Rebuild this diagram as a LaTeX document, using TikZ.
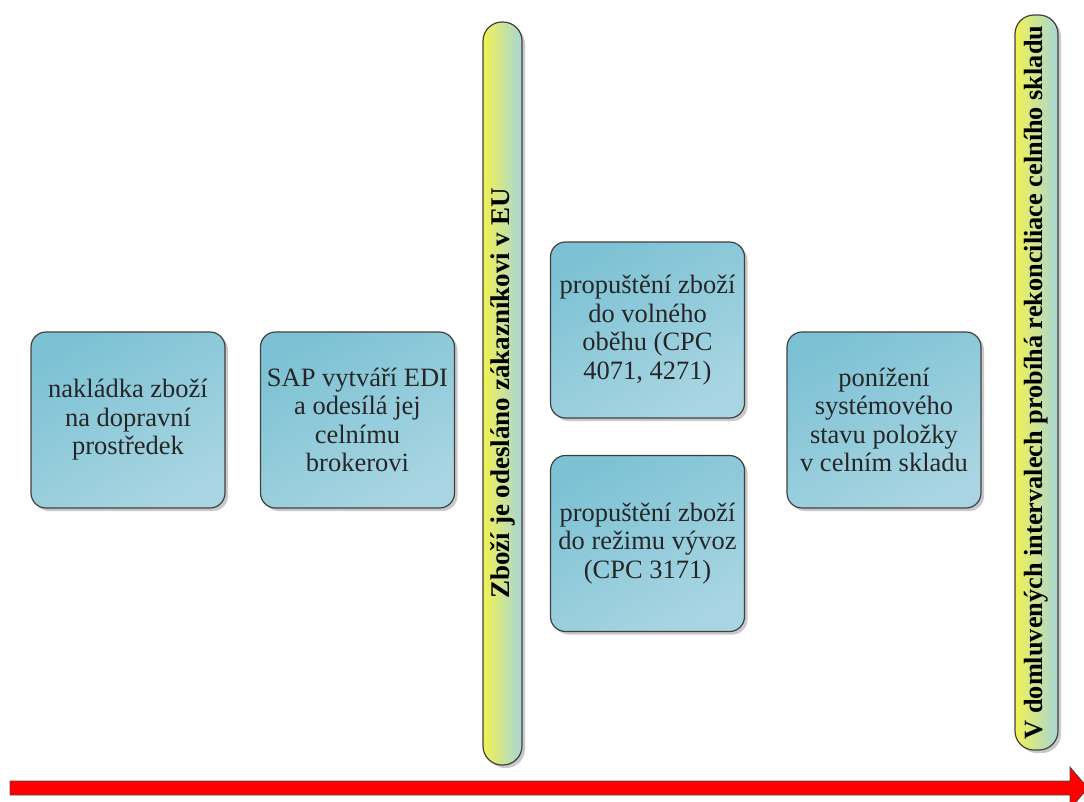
\documentclass[tikz,border=0pt]{standalone}
\usepackage{fontspec}
\setmainfont{Liberation Serif}
\usetikzlibrary{shadows}
\definecolor{boxA}{HTML}{7DC2D4}
\definecolor{boxB}{HTML}{A9D5E2}
\definecolor{barY}{HTML}{F2F252}
\definecolor{barB}{HTML}{A6D6D8}
\definecolor{edge}{HTML}{404040}
\tikzset{
  stepbox/.style={draw=edge, line width=1.2pt, rounded corners=15pt,
    top color=boxA, bottom color=boxB, shading angle=30,
    minimum width=194pt, minimum height=176pt, inner sep=0pt,
    align=center, text=black!85, font=\fontsize{26.5}{28.5}\selectfont,
    drop shadow={shadow xshift=3pt, shadow yshift=-3pt, fill=black!35, opacity=0.6}},
  barbox/.style={draw=edge, line width=1.2pt, rounded corners=19pt,
    left color=barY, right color=barB, inner sep=0pt,
    drop shadow={shadow xshift=3pt, shadow yshift=-3pt, fill=black!35, opacity=0.6}},
  bartext/.style={rotate=90, font=\bfseries\fontsize{27}{29}\selectfont, text=black},
  timearrow/.style={draw=black!70, line width=0.8pt, fill=red}
}
\begin{document}
\begin{tikzpicture}[x=1pt,y=-1pt]
\useasboundingbox (0,0) rectangle (1084,801);
\fill[white] (0,0) rectangle (1084,801);

\node[stepbox] (b1) at (128,420) {nakládka zboží\\na dopravní\\prostředek};
\node[stepbox] (b2) at (357.5,420) {SAP vytváří EDI\\a odesílá jej\\celnímu\\brokerovi};
\node[barbox, minimum width=39pt, minimum height=743pt] (bar1) at (502.5,393.5) {};
\node[bartext] (t1) at (bar1.center) {Zboží je odesláno zákazníkovi v EU};
\node[stepbox] (b3) at (647.5,330) {propuštění zboží\\do volného\\oběhu (CPC\\4071, 4271)};
\node[stepbox] (b4) at (647.5,543.5) {propuštění zboží\\do režimu vývoz\\(CPC 3171)};
\node[stepbox] (b5) at (884,420) {ponížení\\systémového\\stavu položky\\v celním skladu};
\node[barbox, minimum width=43pt, minimum height=735pt] (bar2) at (1036.5,382.5) {};
\node[bartext, font=\bfseries\fontsize{26.3}{28}\selectfont] (t2) at (bar2.center) {V domluvených intervalech probíhá rekonciliace celního skladu};

\coordinate (as) at (10,788);
\coordinate (at) at (1088,788);
\draw[timearrow] (10,781) -- (1070,781) -- (1070,767) -- (at) -- (1070,809) -- (1070,795) -- (10,795) -- cycle;
\end{tikzpicture}
\end{document}
